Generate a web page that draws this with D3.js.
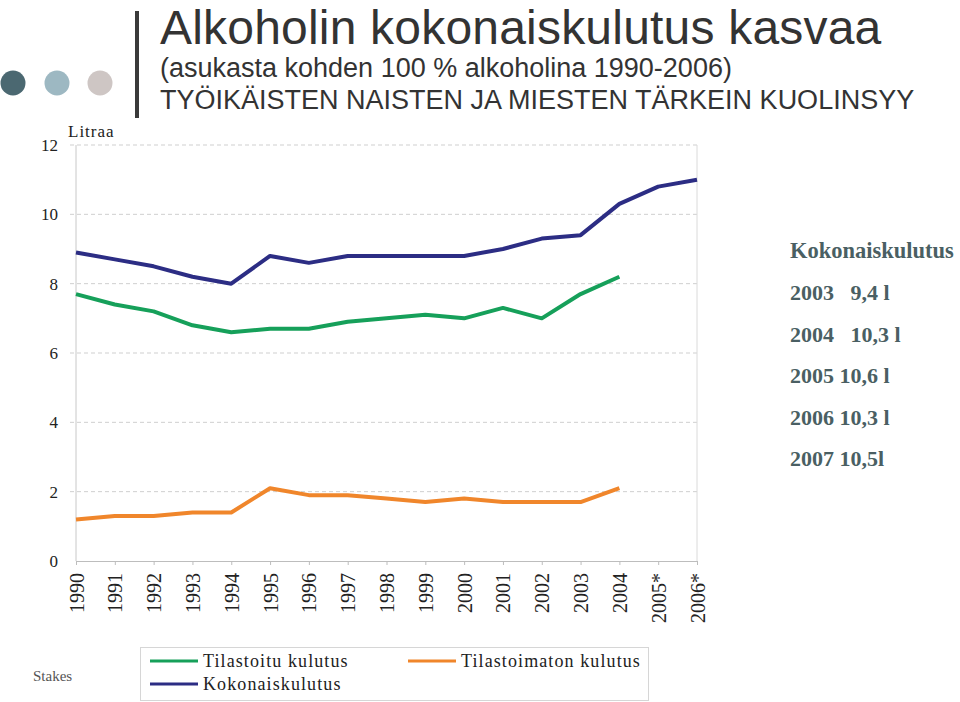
<!DOCTYPE html>
<html>
<head>
<meta charset="utf-8">
<script src="https://cdn.jsdelivr.net/npm/d3@7"></script>
<style>
  body { margin: 0; background: #fff; }
  svg { display: block; }
</style>
</head>
<body>
<div id="chart"></div>
<script>
// data (litres per inhabitant, 100 % alcohol)
var years = ["1990","1991","1992","1993","1994","1995","1996","1997","1998","1999","2000","2001","2002","2003","2004","2005*","2006*"];
var tilastoitu = [7.7, 7.4, 7.2, 6.8, 6.6, 6.7, 6.7, 6.9, 7.0, 7.1, 7.0, 7.3, 7.0, 7.7, 8.2, null, null];
var tilastoimaton = [1.2, 1.3, 1.3, 1.4, 1.4, 2.1, 1.9, 1.9, 1.8, 1.7, 1.8, 1.7, 1.7, 1.7, 2.1, null, null];
var kokonais = [8.9, 8.7, 8.5, 8.2, 8.0, 8.8, 8.6, 8.8, 8.8, 8.8, 8.8, 9.0, 9.3, 9.4, 10.3, 10.8, 11.0];
var yTicks = [0, 2, 4, 6, 8, 10, 12];
var sideNotes = ["2003   9,4 l", "2004   10,3 l", "2005 10,6 l", "2006 10,3 l", "2007 10,5l"];

var width = 960, height = 702;
var serif = "'Liberation Serif', 'Times New Roman', serif";
var sans = "'Liberation Sans', Arial, sans-serif";

var svg = d3.select("#chart").append("svg")
    .attr("width", width)
    .attr("height", height);

// header decoration
var dots = [["#4b6871", 13], ["#9db8c2", 57], ["#cec6c4", 100]];
svg.selectAll(".dot").data(dots).enter().append("circle")
    .attr("cx", function(d) { return d[1]; })
    .attr("cy", 83)
    .attr("r", 12.5)
    .attr("fill", function(d) { return d[0]; });

svg.append("rect").attr("x", 135).attr("y", 11).attr("width", 4).attr("height", 107).attr("fill", "#3a3a3a");

svg.append("text").attr("x", 160).attr("y", 44)
    .style("font-family", sans).style("font-size", "48px").attr("fill", "#333")
    .attr("letter-spacing", "0.2px")
    .text("Alkoholin kokonaiskulutus kasvaa");
svg.append("text").attr("x", 160).attr("y", 77)
    .style("font-family", sans).style("font-size", "27px").attr("fill", "#333")
    .text("(asukasta kohden 100 % alkoholina 1990-2006)");
svg.append("text").attr("x", 160).attr("y", 109)
    .style("font-family", sans).style("font-size", "27px").attr("fill", "#333")
    .text("TYÖIKÄISTEN NAISTEN JA MIESTEN TÄRKEIN KUOLINSYY");

// scales
var x = d3.scalePoint().domain(years).range([76, 697]);
var y = d3.scaleLinear().domain([0, 12]).range([561, 145]);

// gridlines
svg.selectAll(".grid").data(yTicks.slice(1)).enter().append("line")
    .attr("x1", 70).attr("x2", 697)
    .attr("y1", function(d) { return y(d); })
    .attr("y2", function(d) { return y(d); })
    .attr("stroke", "#cfcfcf")
    .attr("stroke-dasharray", "4,3");

// axes frame
svg.append("line").attr("x1", 76).attr("x2", 76).attr("y1", y(12)).attr("y2", y(0)).attr("stroke", "#c8c8c8");
svg.append("line").attr("x1", 697).attr("x2", 697).attr("y1", y(12)).attr("y2", y(0)).attr("stroke", "#dadada");

var xAxis = svg.append("g")
    .attr("transform", "translate(0," + y(0) + ")")
    .call(d3.axisBottom(x).tickSize(4).tickSizeOuter(0));
xAxis.select(".domain").attr("stroke", "#bdbdbd");
xAxis.selectAll(".tick line").attr("stroke", "#bdbdbd");
xAxis.selectAll(".tick text")
    .attr("transform", "rotate(-90)")
    .attr("text-anchor", "end")
    .attr("x", -12).attr("y", 0).attr("dy", "0.35em")
    .style("font-family", serif).style("font-size", "20px").attr("fill", "#222");

var yAxis = svg.append("g")
    .attr("transform", "translate(61,0)")
    .call(d3.axisLeft(y).tickValues(yTicks).tickSize(0));
yAxis.select(".domain").remove();
yAxis.selectAll(".tick text")
    .style("font-family", serif).style("font-size", "17px").attr("fill", "#222");

svg.append("text").attr("x", 68).attr("y", 137)
    .style("font-family", serif).style("font-size", "17px").attr("fill", "#222")
    .attr("letter-spacing", "1px")
    .text("Litraa");

// lines
var series = [
  { name: "Tilastoitu kulutus", values: tilastoitu, color: "#16a05a" },
  { name: "Tilastoimaton kulutus", values: tilastoimaton, color: "#f0862b" },
  { name: "Kokonaiskulutus", values: kokonais, color: "#2c2d84" }
];

var line = d3.line()
    .defined(function(d) { return d.v != null; })
    .x(function(d) { return x(d.year); })
    .y(function(d) { return y(d.v); });

series.forEach(function(s) {
  var pts = years.map(function(yr, i) { return { year: yr, v: s.values[i] }; });
  svg.append("path")
      .datum(pts)
      .attr("d", line)
      .attr("fill", "none")
      .attr("stroke", s.color)
      .attr("stroke-width", 4)
      .attr("stroke-linejoin", "round");
});

// side notes
svg.append("text").attr("x", 790).attr("y", 258)
    .style("font-family", serif).style("font-size", "22.5px").style("font-weight", "bold")
    .attr("fill", "#4a5f63")
    .text("Kokonaiskulutus");
svg.selectAll(".note").data(sideNotes).enter().append("text")
    .attr("x", 790)
    .attr("y", function(d, i) { return 300 + i * 41.5; })
    .style("font-family", serif).style("font-size", "22px").style("font-weight", "bold")
    .style("white-space", "pre")
    .attr("xml:space", "preserve")
    .attr("fill", "#4a5f63")
    .text(function(d) { return d; });

// legend
svg.append("rect").attr("x", 140.5).attr("y", 647.5).attr("width", 508).attr("height", 53)
    .attr("fill", "none").attr("stroke", "#d6d6d6");
var legendPos = [[150, 661], [408, 661], [150, 684]];
series.forEach(function(s, i) {
  var p = legendPos[i];
  svg.append("line").attr("x1", p[0]).attr("x2", p[0] + 48).attr("y1", p[1]).attr("y2", p[1])
      .attr("stroke", s.color).attr("stroke-width", 3);
  svg.append("text").attr("x", p[0] + 53).attr("y", p[1] + 6)
      .style("font-family", serif).style("font-size", "18px").attr("fill", "#222")
      .attr("letter-spacing", "1.1px")
      .text(s.name);
});

svg.append("text").attr("x", 33).attr("y", 681)
    .style("font-family", serif).style("font-size", "15px").attr("fill", "#555")
    .text("Stakes");
</script>
</body>
</html>
